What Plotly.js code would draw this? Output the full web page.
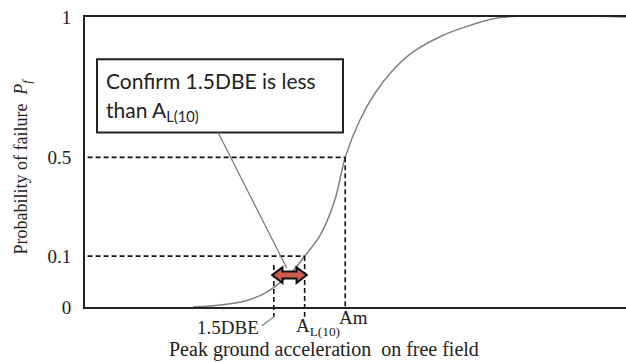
<!DOCTYPE html>
<html>
<head>
<meta charset="utf-8">
<script src="https://cdn.plot.ly/plotly-3.0.1.min.js"></script>
<style>html,body{margin:0;padding:0;background:#fff;}#chart{width:626px;height:362px;}</style>
</head>
<body>
<div id="chart"></div>
<script>
// Fragility curve (schematic): x = peak ground acceleration (arbitrary units),
// y = plotted position on the schematic probability scale.
var accel = [2.0, 2.5, 2.96, 3.33, 3.60, 3.84, 4.06, 4.34, 4.62, 4.81, 5.08, 5.36, 5.67, 6.04, 6.56, 7.12, 7.67, 10];
var pfPos = [0, 0.007, 0.021, 0.048, 0.083, 0.124, 0.1756, 0.245, 0.370, 0.516, 0.644, 0.737, 0.812, 0.876, 0.932, 0.971, 0.998, 1];

// y ticks: schematic (non-linear) probability scale
var tickLabels = ['0', '0.1', '0.5', '1'];
var tickPos = [0, 0.1756, 0.516, 1];

// key accelerations
var dbe15 = 3.49;   // 1.5 DBE
var aL10 = 4.06;    // A_L(10)
var aM = 4.81;      // Am (median)
var p10 = tickPos[1];
var p50 = tickPos[2];

var serif = 'Liberation Serif, Times New Roman, serif';
var dashLine = {color: '#111', width: 1.6, dash: '5px,3px'};

var curve = {
  x: accel, y: pfPos, type: 'scatter', mode: 'lines',
  line: {color: '#808080', width: 1.5, shape: 'spline', smoothing: 0.9},
  hoverinfo: 'skip', showlegend: false
};

// double arrow (from 1.5DBE to A_L(10))
var yc = 0.110, hl = 0.19, hh = 0.027, bh = 0.012;
var x0 = dbe15 - 0.03, x1 = aL10 + 0.04;
var arrowPath = 'M' + x0 + ',' + yc +
  ' L' + (x0 + hl) + ',' + (yc + hh) + ' L' + (x0 + hl) + ',' + (yc + bh) +
  ' L' + (x1 - hl) + ',' + (yc + bh) + ' L' + (x1 - hl) + ',' + (yc + hh) +
  ' L' + x1 + ',' + yc +
  ' L' + (x1 - hl) + ',' + (yc - hh) + ' L' + (x1 - hl) + ',' + (yc - bh) +
  ' L' + (x0 + hl) + ',' + (yc - bh) + ' L' + (x0 + hl) + ',' + (yc - hh) + ' Z';

var shapes = [
  // 0.5 level
  {type: 'line', xref: 'x', yref: 'y', x0: -0.1, x1: aM, y0: p50, y1: p50, line: dashLine},
  {type: 'line', xref: 'x', yref: 'paper', x0: aM, x1: aM, y0: p50, y1: 0, line: dashLine},
  // 0.1 level
  {type: 'line', xref: 'x', yref: 'y', x0: -0.1, x1: aL10, y0: p10, y1: p10, line: dashLine},
  {type: 'line', xref: 'x', yref: 'paper', x0: aL10, x1: aL10, y0: p10, y1: -0.034, line: dashLine},
  // 1.5DBE
  {type: 'line', xref: 'x', yref: 'paper', x0: dbe15, x1: dbe15, y0: 0.145, y1: -0.034, line: dashLine},
  // leader from 1.5DBE label
  {type: 'line', xref: 'x', yref: 'paper', x0: 3.27, x1: dbe15, y0: -0.065, y1: -0.034, line: {color: '#777', width: 1.2}},
  // callout box
  {type: 'rect', xref: 'paper', yref: 'paper', x0: 0.0222, x1: 0.4769, y0: 0.602, y1: 0.854,
   line: {color: '#222', width: 2}, fillcolor: 'rgba(0,0,0,0)'},
  // leader from callout box to arrow
  {type: 'line', xref: 'x', yref: 'y', x0: 2.46, x1: 3.73, y0: 0.602, y1: 0.134, line: {color: '#777', width: 1.2}},
  // arrow
  {type: 'path', xref: 'x', yref: 'y', path: arrowPath, fillcolor: '#cf5a50', line: {color: '#111', width: 2}}
];

var annotations = [
  {xref: 'paper', yref: 'paper', x: 0.035, y: 0.781, xanchor: 'left', yanchor: 'middle', showarrow: false,
   text: 'Confirm 1.5DBE is less', font: {family: 'Lato, sans-serif', size: 21, color: '#222'}},
  {xref: 'paper', yref: 'paper', x: 0.035, y: 0.677, xanchor: 'left', yanchor: 'middle', showarrow: false,
   text: 'than A<sub>L(10)</sub>', font: {family: 'Lato, sans-serif', size: 21, color: '#222'}},
  {xref: 'x', yref: 'paper', x: 3.25, y: -0.069, xanchor: 'right', yanchor: 'middle', showarrow: false,
   text: '1.5DBE', font: {family: serif, size: 19, color: '#222'}},
  {xref: 'x', yref: 'paper', x: 3.86, y: -0.02, xanchor: 'left', yanchor: 'top', showarrow: false,
   text: 'A<sub>L(10)</sub>', font: {family: serif, size: 19, color: '#222'}},
  {xref: 'x', yref: 'paper', x: 4.66, y: -0.036, xanchor: 'left', yanchor: 'middle', showarrow: false,
   text: 'Am', font: {family: serif, size: 19, color: '#222'}},
  {xref: 'paper', yref: 'paper', x: 0.442, y: -0.148, xanchor: 'center', yanchor: 'middle', showarrow: false,
   text: 'Peak ground acceleration\u00a0 on free field', font: {family: serif, size: 20, color: '#222'}},
  {xref: 'paper', yref: 'paper', x: -0.116, y: 0.485, xanchor: 'center', yanchor: 'middle', showarrow: false,
   textangle: -90, text: 'Probability of failure\u00a0 <i>P<sub>f</sub></i>', font: {family: serif, size: 18, color: '#222'}}
];

var layout = {
  width: 626, height: 362,
  margin: {l: 85, r: 0, t: 16.5, b: 55, pad: 0},
  paper_bgcolor: '#fff', plot_bgcolor: '#fff',
  xaxis: {range: [0, 10], showgrid: false, zeroline: false, showticklabels: false, ticks: '',
          showline: true, linecolor: '#222', linewidth: 2, mirror: true, fixedrange: true},
  yaxis: {range: [0, 1], showgrid: false, zeroline: false, tickmode: 'array', tickvals: tickPos, ticktext: tickLabels,
          ticks: '', ticklabelstandoff: 8, tickfont: {family: serif, size: 19, color: '#222'},
          showline: true, linecolor: '#222', linewidth: 2, mirror: false, fixedrange: true},
  shapes: shapes,
  annotations: annotations,
  showlegend: false
};

Plotly.newPlot('chart', [curve], layout, {staticPlot: true, displayModeBar: false});
</script>
</body>
</html>
